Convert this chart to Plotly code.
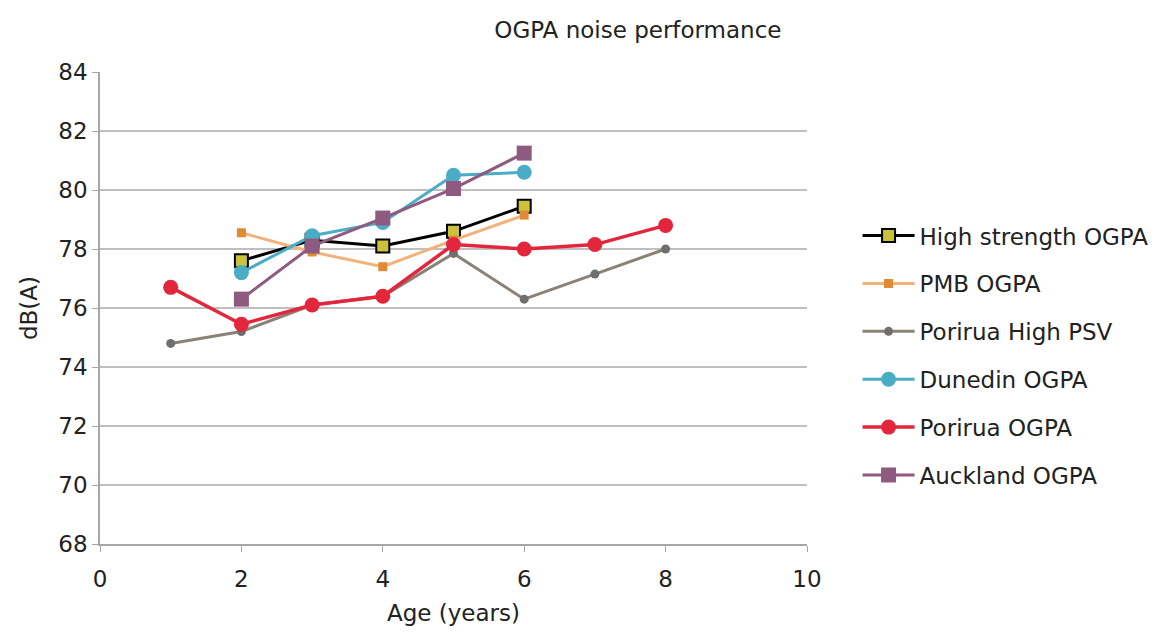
import plotly.graph_objects as go

# Age (years) of each surface at the time of measurement
age_high_strength = [2, 3, 4, 5, 6]
age_pmb = [2, 3, 4, 5, 6]
age_porirua_psv = [1, 2, 3, 4, 5, 6, 7, 8]
age_dunedin = [2, 3, 4, 5, 6]
age_porirua = [1, 2, 3, 4, 5, 6, 7, 8]
age_auckland = [2, 3, 4, 5, 6]

# Noise level dB(A) per series
db_high_strength = [77.6, 78.3, 78.1, 78.6, 79.45]
db_pmb = [78.55, 77.9, 77.4, 78.3, 79.15]
db_porirua_psv = [74.8, 75.2, 76.1, 76.4, 77.85, 76.3, 77.15, 78.0]
db_dunedin = [77.2, 78.45, 78.9, 80.5, 80.6]
db_porirua = [76.7, 75.45, 76.1, 76.4, 78.15, 78.0, 78.15, 78.8]
db_auckland = [76.3, 78.1, 79.05, 80.05, 81.25]

font_family = "DejaVu Sans"
fsize = 23

series = [
    dict(name="High strength OGPA", x=age_high_strength, y=db_high_strength,
         line=dict(color="#000000", width=3),
         marker=dict(symbol="square", size=13, color="#c9c23a",
                     line=dict(color="#000000", width=2))),
    dict(name="PMB OGPA", x=age_pmb, y=db_pmb,
         line=dict(color="#f2b27a", width=3),
         marker=dict(symbol="square", size=9, color="#e08a35",
                     line=dict(width=0))),
    dict(name="Porirua High PSV", x=age_porirua_psv, y=db_porirua_psv,
         line=dict(color="#8a8276", width=3),
         marker=dict(symbol="circle", size=9, color="#6f6f6f",
                     line=dict(width=0))),
    dict(name="Dunedin OGPA", x=age_dunedin, y=db_dunedin,
         line=dict(color="#4bacc6", width=3),
         marker=dict(symbol="circle", size=15, color="#4bacc6",
                     line=dict(width=0))),
    dict(name="Porirua OGPA", x=age_porirua, y=db_porirua,
         line=dict(color="#e3263c", width=3.5),
         marker=dict(symbol="circle", size=15, color="#e3263c",
                     line=dict(width=0))),
    dict(name="Auckland OGPA", x=age_auckland, y=db_auckland,
         line=dict(color="#8f5a80", width=3),
         marker=dict(symbol="square", size=15, color="#8f5a80",
                     line=dict(width=0))),
]

fig = go.Figure()
for i, s in enumerate(series):
    fig.add_trace(go.Scatter(
        x=s["x"], y=s["y"], name=s["name"], mode="lines+markers",
        line=s["line"], marker=s["marker"], legendgroup=f"g{i}",
    ))

fig.update_layout(
    width=1164, height=634,
    paper_bgcolor="white", plot_bgcolor="white",
    margin=dict(l=100, r=356, t=72, b=90),
    font=dict(family=font_family, size=fsize, color="#222222"),
    title=dict(text="OGPA noise performance", x=0.548, y=0.953,
               xanchor="center", yanchor="middle",
               font=dict(family=font_family, size=fsize, color="#222222")),
    legend=dict(x=1.07, y=0.699, xanchor="left", yanchor="top",
                font=dict(family=font_family, size=fsize, color="#222222"),
                tracegroupgap=15, itemwidth=52, bgcolor="rgba(0,0,0,0)"),
    showlegend=True,
)

fig.update_xaxes(
    range=[0, 10], tickvals=[0, 2, 4, 6, 8, 10],
    showgrid=False, zeroline=False,
    showline=True, linecolor="#a6a6a6", linewidth=1.5,
    ticks="outside", ticklen=6, tickcolor="#a6a6a6",
    ticklabelstandoff=8,
    tickfont=dict(size=fsize), title=dict(text="Age (years)", standoff=14,
                                          font=dict(size=fsize)),
)
fig.update_yaxes(
    range=[68, 84], tickvals=[68, 70, 72, 74, 76, 78, 80, 82, 84],
    showgrid=True, gridcolor="#bfbfbf", gridwidth=1.5, zeroline=False,
    showline=True, linecolor="#a6a6a6", linewidth=1.5,
    ticks="outside", ticklen=6, tickcolor="#a6a6a6",
    tickfont=dict(size=fsize), title=dict(text="dB(A)", standoff=14,
                                          font=dict(size=fsize)),
)

fig.write_html("out.html")
